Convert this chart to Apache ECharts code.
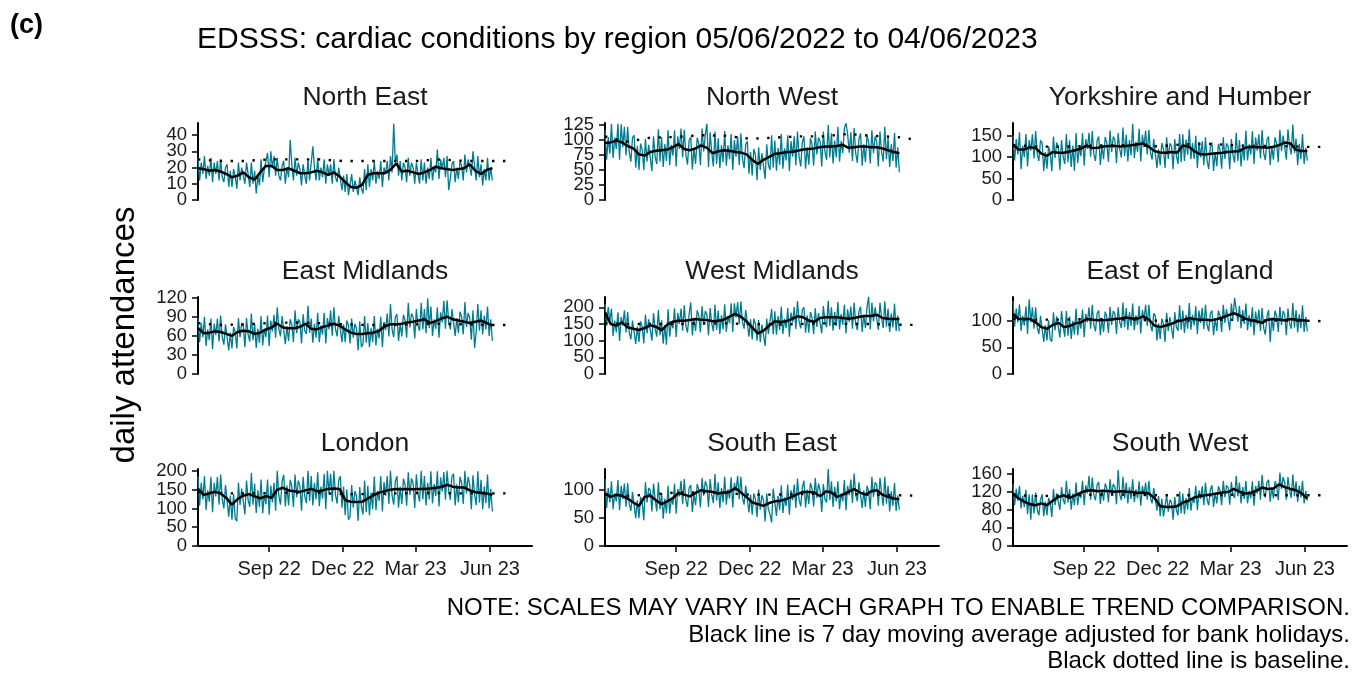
<!DOCTYPE html>
<html>
<head>
<meta charset="utf-8">
<script src="https://cdn.jsdelivr.net/npm/echarts@6/dist/echarts.min.js"></script>
<style>
  html, body { margin: 0; padding: 0; background: #fff; }
  #chart { width: 1354px; height: 674px; }
</style>
</head>
<body>
<div id="chart"></div>
<script>
// ---- data ----
// raw daily counts, one value every 2 days from 05/06/2022 to 04/06/2023
// 7 day moving average, one value a week; baseline, one value a month
const regions = ['North East', 'North West', 'Yorkshire and Humber', 'East Midlands', 'West Midlands',
  'East of England', 'London', 'South East', 'South West']
const baseDates = ['2022-06-05', '2022-07-01', '2022-08-01', '2022-09-01', '2022-10-01', '2022-11-01', '2022-12-01',
  '2023-01-01', '2023-02-01', '2023-03-01', '2023-04-01', '2023-05-01', '2023-06-01', '2023-06-28']
const xTickDates = ['2022-09-01', '2022-12-01', '2023-03-01', '2023-06-01']

const neRaw = [26,12,23,16,27,13,21, 15,26,11,23,16,24,12, 25,14,11,20,22,8,18, 8,19,15,7,23,12,20, 20,10,23,16,8,23,10,
  18,4,15,9,25,11,19, 18,29,14,30,20,27,15, 26,15,12,21,24,10,20, 14,37,22,12,26,15,23, 19,9,22,15,10,25,12,
  23,33,20,12,26,12,20, 14,25,10,22,15,22,10, 25,14,11,20,20,6,15, 5,16,3,4,16,5,12, 11,3,14,7,4,19,6,
  22,8,19,12,24,10,18, 13,24,8,20,16,24,12, 27,17,47,23,28,15,24, 12,23,20,11,26,15,23, 20,10,23,16,10,25,12,
  23,10,20,13,26,12,20, 17,31,13,25,19,26,14, 27,6,13,22,24,11,20, 13,24,21,12,28,17,25, 25,15,30,21,12,27,14,
  22,9,19,12,26,12,20, 12]
const neMa = [19.5,19,18,18.5,17.5,16,14,15,17,14, 12.5,17,21,21,18.5,18.5,19.5,18,16.5,16.5, 17,18,17,15.5,17,14.5,11,8,7.5,9.5,
  15.5,16.5,16.5,16.5,18.5,22.5,17.5,18,17,16, 17,18.5,20.5,19.5,19,18.5,19,19.5,22,18, 16,18.5,19.5]
const neBase = [25,24,24,25,25,25,24,24,24,24,25,24,24,24]

const nwRaw = [117,67,105,77,127,70,104, 85,127,67,126,88,122,74, 122,80,64,104,108,54,90, 50,94,84,50,102,64,92, 90,48,106,72,60,118,64,
  105,55,93,65,116,58,92, 74,116,56,106,85,119,71, 117,75,59,99,105,51,87, 60,104,94,58,119,81,109, 127,55,113,79,56,114,60,
  103,53,91,63,115,57,91, 68,110,50,100,72,106,58, 111,69,53,93,98,44,80, 41,85,75,33,88,50,78, 77,35,93,59,50,108,54,
  99,49,87,59,110,52,86, 66,108,48,98,72,106,58, 114,72,56,96,106,52,88, 59,103,93,57,114,76,104, 98,56,114,80,67,125,71,
  111,61,99,71,122,64,98, 78,120,128,110,79,113,65, 120,78,62,102,111,57,93, 63,107,97,61,116,78,106, 98,56,114,80,64,122,68,
  105,55,93,65,112,54,88, 46]
const nwMa = [95,96,99,96,90,86,76,74,80,82, 83,84,88,93,85,83,86,91,87,78, 81,83,82,80,79,76,67,60,67,72,
  77,78,80,80,82,84,85,86,88,89, 89,90,92,87,88,89,89,88,88,86, 83,80,78]
const nwBase = [106,97,104,105,108,107,102,104,106,106,110,107,105,100]

const yhRaw = [150,92,142,106,158,72,126, 100,154,78,140,115,153,97, 161,107,91,139,134,68,112, 73,125,111,67,148,98,134,
  124,70,140,102,84,154,88, 139,77,127,68,156,86,124, 102,156,80,142,119,157,101, 161,107,91,139,148,82,126,
  95,147,133,89,162,112,148, 140,86,156,118,99,169,103, 152,90,140,104,178,98,136, 112,166,90,152,124,162,106,
  164,110,94,142,140,74,118, 81,133,119,75,146,96,132, 126,72,142,104,84,154,88, 153,91,141,105,165,95,133,
  96,150,74,136,99,137,81, 146,92,72,124,134,68,112, 79,131,117,73,146,96,132, 126,72,142,104,87,157,91,
  140,78,128,92,162,92,130, 106,160,84,146,115,153,97, 163,109,93,141,148,82,126, 94,146,132,88,164,114,150,
  148,94,165,126,106,176,110, 143,81,131,95,154,84,122, 92]
const yhMa = [128,118,118,123,121,108,103,112,110,110, 113,116,120,127,121,122,125,126,126,125, 126,128,130,132,124,114,111,110,112,110,
  127,125,114,107,106,108,109,110,112,113, 114,122,124,123,123,122,124,128,134,132, 117,114,114]
const yhBase = [128,125,124,126,128,128,125,130,131,128,126,126,124,124]

const emRaw = [88,50,80,58,90,44,70, 53,87,39,79,61,87,51, 92,58,46,78,79,37,65, 40,74,66,40,88,58,80, 76,42,88,62,51,95,53,
  79,41,71,49,91,45,71, 58,92,44,84,67,93,57, 105,71,59,91,89,47,75, 52,86,78,50,100,64,86, 82,48,94,68,63,107,65,
  87,49,79,57,96,50,76, 62,96,48,88,70,100,60, 105,71,59,91,92,50,78, 50,84,76,48,87,57,79, 71,37,83,42,47,91,49,
  80,42,72,50,91,45,71, 56,90,42,82,69,95,59, 110,70,58,90,94,52,80, 59,93,85,57,112,73,95, 90,56,102,76,68,112,70,
  102,64,119,72,106,60,86, 71,105,57,97,81,115,71, 116,82,70,102,102,60,88, 64,98,90,62,113,74,96, 88,54,100,41,66,110,68,
  100,62,92,70,106,60,86, 52]
const emMa = [72,64,65,67,66,63,60,66,68,67, 63,65,70,73,79,73,72,72,74,79, 71,70,74,76,79,76,70,65,63,63,
  64,65,68,75,78,78,79,81,82,84, 86,80,83,87,90,86,84,82,80,82, 84,80,76]
const emBase = [80,77,78,80,81,80,78,77,77,78,79,78,77,77]

const wmRaw = [210,145,201,159,196,114,160, 125,185,99,171,145,191,125, 186,124,104,160,166,90,142, 96,158,142,92,178,122,164,
  162,100,182,136,112,192,116, 161,91,147,88,194,112,158, 137,197,111,183,150,196,130, 206,144,124,180,215,116,168,
  129,191,175,125,203,147,189, 178,116,198,152,128,208,132, 190,120,176,134,209,127,173, 152,212,126,212,170,216,150,
  218,156,136,192,188,112,164, 104,166,150,100,162,96,148, 146,84,166,120,115,195,119, 188,118,174,132,202,120,166,
  138,198,112,184,155,201,135, 219,157,137,193,200,124,176, 124,186,170,120,197,141,183, 184,122,204,158,140,220,144,
  200,130,186,144,216,134,180, 148,208,122,194,156,202,136, 214,152,132,188,202,126,178, 138,200,232,134,214,158,200,
  194,132,214,168,138,218,142, 196,126,182,140,211,129,175, 128]
const wmMa = [185,150,145,155,140,136,132,138,146,142, 131,148,157,160,160,162,165,163,162,158, 160,163,172,180,172,158,140,122,130,145,
  158,156,158,165,173,170,160,157,168,170, 170,170,168,166,168,172,174,174,178,168, 166,165,165]
const wmBase = [152,150,150,150,152,152,150,148,150,152,150,150,148,147]

const eeRaw = [137,89,123,97,131,81,109, 91,127,75,140,97,125,85, 125,87,75,109,106,60,92, 63,101,65,61,116,82,108,
  106,68,118,90,70,118,72, 108,66,100,74,123,73,101, 85,121,69,113,97,125,85, 130,92,80,114,119,73,105,
  79,117,107,77,126,92,118, 113,75,125,97,86,134,88, 124,82,116,90,132,82,110, 92,128,76,120,102,130,90,
  130,92,80,114,109,63,95, 66,104,94,60,115,81,107, 104,66,116,88,81,129,83, 119,77,111,85,133,83,111,
  91,127,75,119,96,124,84, 130,92,80,114,119,73,105, 81,119,109,79,130,96,122, 120,82,132,104,143,140,98,
  128,86,120,94,132,82,110, 89,125,73,117,93,121,81, 124,86,74,108,120,60,106, 81,119,109,79,126,92,118,
  111,73,123,95,85,133,87, 120,78,112,86,129,79,107, 80]
const eeMa = [113,103,103,103,97,88,85,92,96,88, 90,95,97,103,102,101,101,102,103,104, 106,104,104,108,102,91,88,91,94,99,
  101,105,103,102,102,101,103,106,110,114, 110,104,101,99,96,102,103,102,101,103, 102,101,100]
const eeBase = [104,102,102,103,103,102,100,100,101,102,101,100,100,99]

const loRaw = [185,108,168,124,186,96,148, 118,184,90,168,132,184,110, 190,124,100,162,162,78,134, 70,138,73,66,169,109,153,
  150,84,174,122,104,194,110, 166,88,148,104,177,87,139, 111,177,83,161,116,168,94, 200,134,110,172,189,105,161,
  108,176,160,104,190,130,174, 160,94,184,132,114,200,120, 186,108,168,124,196,106,158, 126,192,98,200,140,192,118,
  200,137,113,175,186,102,158, 82,150,70,78,162,102,146, 133,67,157,105,84,174,90, 160,82,142,98,185,95,147,
  120,186,92,170,134,186,112, 200,134,110,172,186,102,158, 111,179,163,107,196,136,180, 167,101,191,139,118,200,124,
  186,108,168,124,199,113,165, 133,199,105,183,145,197,123, 200,147,123,185,192,108,164, 116,184,168,112,200,140,184,
  164,98,188,136,109,199,115, 176,98,158,114,190,100,152, 92]
const loMa = [152,136,140,144,140,128,110,125,134,138, 132,127,133,128,150,155,148,146,144,148, 152,146,148,152,153,152,122,118,117,118,
  126,135,142,146,150,152,151,152,151,152, 152,153,155,157,163,158,156,156,148,143, 142,140,136]
const loBase = [143,140,140,141,142,141,138,138,140,141,141,140,140,140]

const seRaw = [120,68,104,78,116,66,94, 80,118,64,108,84,112,70, 113,75,63,97,98,50,82, 50,88,78,46,114,78,104, 100,62,112,84,62,114,66,
  95,49,85,59,108,58,86, 74,112,58,102,89,117,75, 120,82,70,104,109,61,93, 73,111,101,69,122,90,116, 108,70,120,92,77,129,81,
  114,68,104,78,124,74,102, 85,123,69,113,98,126,84, 124,86,74,108,108,60,92, 56,94,84,52,101,65,91, 82,44,94,66,57,42,103,
  100,54,90,64,109,59,87, 72,110,56,100,82,110,68, 121,83,71,105,117,69,101, 75,113,103,71,122,86,112, 99,61,111,83,78,138,82,
  116,70,106,80,116,66,94, 80,118,64,108,91,119,77, 130,92,80,114,116,68,100, 70,108,98,66,124,88,114, 110,72,122,94,72,124,76,
  108,62,98,72,113,63,91, 65]
const seMa = [94,88,92,90,85,78,72,88,90,82, 75,80,86,95,92,89,95,100,98,97, 94,96,97,104,96,88,78,75,72,77,
  80,81,84,88,93,97,97,96,89,98, 96,88,92,97,102,96,92,98,100,92, 88,85,84]
const seBase = [93,90,92,96,96,95,92,92,93,94,93,92,91,90]

const swRaw = [136,90,126,100,133,83,111, 86,124,70,114,58,114,72, 118,80,68,102,114,66,98, 68,106,96,64,126,90,116,
  118,80,130,102,92,144,96, 126,80,116,90,140,90,118, 106,144,90,134,116,155,102, 151,113,101,135,141,93,125,
  100,138,128,96,147,111,137, 130,92,168,114,101,153,105, 140,94,130,104,147,97,125, 105,143,89,133,112,140,102,
  144,106,94,128,126,78,110, 66,104,65,62,112,76,102, 96,58,108,80,68,120,72, 116,70,106,80,128,78,106,
  95,133,79,123,104,132,90, 140,102,90,124,134,86,118, 94,132,122,90,144,108,134, 129,91,141,113,106,155,110,
  140,94,130,104,144,94,122, 105,143,89,133,116,144,102, 157,119,107,141,146,98,130, 105,143,133,101,162,126,152,
  140,102,152,124,106,158,110, 143,97,133,107,144,94,122, 100]
const swMa = [116,105,98,92,90,94,90,100,108,112, 106,112,118,122,123,121,122,121,120,121, 120,119,117,118,116,106,88,86,86,88,
  96,100,107,110,112,114,116,118,119,126, 120,116,117,122,129,126,127,136,130,126, 123,116,105]
const swBase = [113,110,111,113,114,113,112,112,112,113,113,112,112,112]

// y axis tick labels and upper limit of each panel
const yTicks = [[0,10,20,30,40], [0,25,50,75,100,125], [0,50,100,150], [0,30,60,90,120], [0,50,100,150,200],
  [0,50,100], [0,50,100,150,200], [0,50,100], [0,40,80,120,160]]
const yMax = [47.4, 128.3, 179.6, 121, 231, 144.5, 205, 138, 170]

const rawAll = [neRaw, nwRaw, yhRaw, emRaw, wmRaw, eeRaw, loRaw, seRaw, swRaw]
const maAll = [neMa, nwMa, yhMa, emMa, wmMa, eeMa, loMa, seMa, swMa]
const baseAll = [neBase, nwBase, yhBase, emBase, wmBase, eeBase, loBase, seBase, swBase]

// ---- layout ----
// x is counted in days from 05/06/2022
const DAY = 86400000
const t0 = Date.UTC(2022, 5, 5)
const toDay = s => Math.round((Date.parse(s) - t0) / DAY)
const xMaxDay = toDay('2023-07-23')
const months = ['Jan', 'Feb', 'Mar', 'Apr', 'May', 'Jun', 'Jul', 'Aug', 'Sep', 'Oct', 'Nov', 'Dec']
const colLeft = [198, 605, 1013]
const rowTop = [123, 297, 469]
const panelW = 334
const panelH = 77
const FONT = '"Liberation Sans", Arial, sans-serif'
const TEAL = '#007C91'

const grids = [], xAxes = [], yAxes = [], series = [], texts = []
const xTickVals = xTickDates.map(toDay)

function dayLabel(v) {
  const d = new Date(t0 + v * DAY)
  return months[d.getUTCMonth()] + ' ' + String(d.getUTCFullYear()).slice(2)
}

regions.forEach((name, i) => {
  const r = Math.floor(i / 3), c = i % 3
  const bottomRow = r === 2
  grids.push({ left: colLeft[c], top: rowTop[r], width: panelW, height: panelH })
  xAxes.push({
    type: 'value', gridIndex: i, min: 0, max: xMaxDay,
    show: bottomRow,
    axisLine: { show: true, onZero: false, lineStyle: { color: '#000', width: 2 } },
    axisTick: { show: true, length: 6, customValues: xTickVals, lineStyle: { color: '#000', width: 1.5 } },
    axisLabel: {
      show: true, customValues: xTickVals, interval: 0, margin: 13, color: '#1a1a1a', fontSize: 20, fontFamily: FONT,
      formatter: dayLabel
    },
    splitLine: { show: false }
  })
  // labels of the y axes are placed below, the library drops some of them when they touch
  yAxes.push({
    type: 'value', gridIndex: i, min: 0, max: yMax[i],
    axisLine: { show: true, lineStyle: { color: '#000', width: 2 } },
    axisTick: { show: true, length: 6, customValues: yTicks[i], lineStyle: { color: '#000', width: 1.5 } },
    axisLabel: { show: false },
    splitLine: { show: false }
  })
  series.push({
    type: 'line', xAxisIndex: i, yAxisIndex: i, showSymbol: false, silent: true,
    lineStyle: { color: TEAL, width: 1.3 },
    data: rawAll[i].map((v, k) => [k * 2, v])
  })
  series.push({
    type: 'line', xAxisIndex: i, yAxisIndex: i, showSymbol: false, silent: true,
    lineStyle: { color: '#000', width: 2.4, type: [2.4, 8.5], cap: 'butt' },
    data: baseAll[i].map((v, k) => [toDay(baseDates[k]), v])
  })
  series.push({
    type: 'line', xAxisIndex: i, yAxisIndex: i, showSymbol: false, silent: true,
    lineStyle: { color: '#000', width: 2.5 },
    data: maAll[i].map((v, k) => [k * 7, v])
  })
  texts.push({
    type: 'text', x: colLeft[c] + panelW / 2, y: rowTop[r] - 25,
    style: { text: name, fontSize: 26.5, fontFamily: FONT, fill: '#1a1a1a', align: 'center', verticalAlign: 'middle' }
  })
})

texts.push(
  { type: 'text', x: 10, y: 26, style: { text: '(c)', fontSize: 27, fontWeight: 'bold', fontFamily: FONT, fill: '#000', align: 'left', verticalAlign: 'middle' } },
  { type: 'text', x: 197, y: 40, style: { text: 'EDSSS: cardiac conditions by region 05/06/2022 to 04/06/2023', fontSize: 30, fontFamily: FONT, fill: '#000', align: 'left', verticalAlign: 'middle' } },
  { type: 'text', x: 125, y: 335, rotation: Math.PI / 2, style: { text: 'daily attendances', fontSize: 33, fontFamily: FONT, fill: '#000', align: 'center', verticalAlign: 'middle' } },
  { type: 'text', x: 1350, y: 608, style: { text: 'NOTE: SCALES MAY VARY IN EACH GRAPH TO ENABLE TREND COMPARISON.', fontSize: 24, fontFamily: FONT, fill: '#000', align: 'right', verticalAlign: 'middle' } },
  { type: 'text', x: 1350, y: 635, style: { text: 'Black line is 7 day moving average adjusted for bank holidays.', fontSize: 24, fontFamily: FONT, fill: '#000', align: 'right', verticalAlign: 'middle' } },
  { type: 'text', x: 1350, y: 661, style: { text: 'Black dotted line is baseline.', fontSize: 24, fontFamily: FONT, fill: '#000', align: 'right', verticalAlign: 'middle' } }
)

const chart = echarts.init(document.getElementById('chart'))
chart.setOption({
  animation: false,
  backgroundColor: '#fff',
  grid: grids,
  xAxis: xAxes,
  yAxis: yAxes,
  series: series
})

// y tick labels, put where the axis scale says
regions.forEach((name, i) => {
  const c = i % 3
  yTicks[i].forEach(v => {
    texts.push({
      type: 'text', x: colLeft[c] - 11, y: chart.convertToPixel({ yAxisIndex: i }, v),
      style: { text: String(v), fontSize: 18.5, fontFamily: FONT, fill: '#1a1a1a', align: 'right', verticalAlign: 'middle' }
    })
  })
})
chart.setOption({ graphic: texts })
</script>
</body>
</html>
